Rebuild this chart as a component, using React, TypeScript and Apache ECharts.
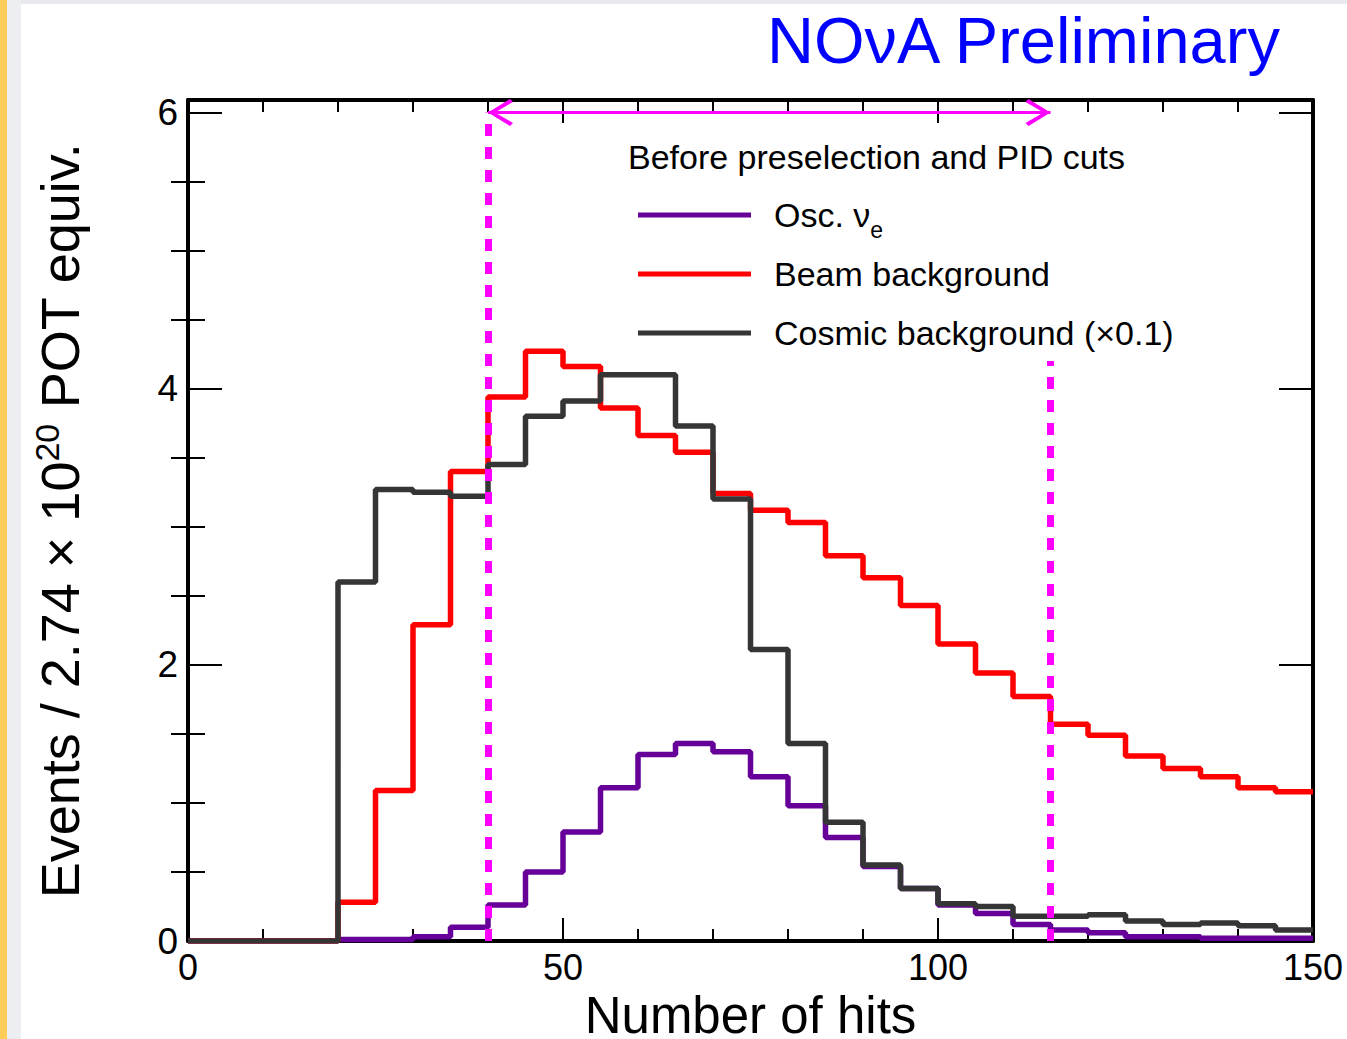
import React, { useEffect, useRef } from 'react';
import * as echarts from 'echarts';

// ---------------- data ----------------
const binStarts = [0, 5, 10, 15, 20, 25, 30, 35, 40, 45, 50, 55, 60, 65, 70, 75, 80, 85, 90, 95, 100, 105, 110, 115, 120, 125, 130, 135, 140, 145];
const histEnd = 150;

const oscNue = [0, 0, 0, 0, 0.01, 0.01, 0.03, 0.10, 0.26, 0.50, 0.79, 1.11, 1.35, 1.43, 1.37, 1.19, 0.98, 0.75, 0.54, 0.38, 0.26, 0.20, 0.12, 0.08, 0.06, 0.03, 0.03, 0.02, 0.02, 0.02];
const beamBkg = [0, 0, 0, 0, 0.28, 1.09, 2.29, 3.40, 3.94, 4.27, 4.16, 3.86, 3.66, 3.54, 3.24, 3.12, 3.03, 2.79, 2.63, 2.43, 2.15, 1.94, 1.77, 1.57, 1.49, 1.34, 1.25, 1.19, 1.11, 1.08];
const cosmicBkg = [0, 0, 0, 0, 2.60, 3.27, 3.25, 3.22, 3.45, 3.80, 3.91, 4.10, 4.10, 3.73, 3.20, 2.11, 1.43, 0.86, 0.55, 0.38, 0.27, 0.25, 0.18, 0.18, 0.19, 0.145, 0.12, 0.13, 0.11, 0.08];

const seriesNames = ['Osc. νe', 'Beam background', 'Cosmic background (×0.1)'];
const legendHeader = 'Before preselection and PID cuts';
const titleText = 'NOνA Preliminary';
const xTitle = 'Number of hits';

const xTickLabels = [0, 50, 100, 150];
const yMajorTicks = [0, 2, 4, 6];
const yMinorTicks = [0.5, 1, 1.5, 2.5, 3, 3.5, 4.5, 5, 5.5];

const cutLow = 40;
const cutHigh = 115;
const cutLowTop = 6;
const cutHighTop = 4.2;
const arrowLevel = 6;

// ---------------- styles ----------------
const FONT = '"Liberation Sans", Arial, Helvetica, sans-serif';
const C_OSC = '#660099';
const C_BEAM = '#ff0000';
const C_COSMIC = '#353535';
const C_CUT = '#ff00ff';
const CHEVRON_LEFT = 'path://M0 13.5 L22 0 L25 3 L7 13.5 L25 24 L22 27 Z';
const CHEVRON_RIGHT = 'path://M25 13.5 L3 0 L0 3 L18 13.5 L0 24 L3 27 Z';

function toSteps(vals: number[]): number[][] {
  const pts = binStarts.map((x, i) => [x, vals[i]]);
  pts.push([histEnd, vals[vals.length - 1]]);
  return pts;
}

function buildOption(): any {
  const frameLine = { show: true, onZero: false, lineStyle: { color: '#000', width: 4 } };
  const xCommon = {
    type: 'value',
    min: 0,
    max: 150,
    interval: 50,
    axisLine: frameLine,
    axisTick: { show: true, inside: true, length: 23, lineStyle: { color: '#000', width: 2 } },
    minorTick: { show: true, splitNumber: 5, length: 12, lineStyle: { color: '#000', width: 2 } },
    splitLine: { show: false },
    minorSplitLine: { show: false },
  };
  const yRange = { type: 'value', min: 0, max: 6.09, splitLine: { show: false } };
  const majorTick = { show: true, inside: true, length: 34, customValues: yMajorTicks, lineStyle: { color: '#000', width: 2 } };
  const minorTickY = { show: true, inside: true, length: 17, customValues: yMinorTicks, lineStyle: { color: '#000', width: 2 } };

  const lineSeries = (name: string, vals: number[], color: string, extra: any = {}) => ({
    type: 'line',
    name,
    step: 'end',
    data: toSteps(vals),
    symbol: 'none',
    showSymbol: false,
    color,
    itemStyle: { color },
    lineStyle: { color, width: 5.5 },
    xAxisIndex: 0,
    yAxisIndex: 0,
    silent: true,
    ...extra,
  });

  const chevron = (x: number, path: string, offsetX: number) => ({
    type: 'scatter',
    name: 'cut-arrow',
    data: [[x, arrowLevel]],
    symbol: path,
    symbolSize: [25, 27],
    symbolOffset: [offsetX, 0],
    itemStyle: { color: C_CUT, opacity: 1 },
    silent: true,
    z: 6,
    xAxisIndex: 0,
    yAxisIndex: 0,
  });

  return {
    animation: false,
    backgroundColor: 'transparent',
    textStyle: { fontFamily: FONT },
    title: {
      text: titleText,
      left: 767,
      top: 8,
      padding: 0,
      textStyle: { color: '#0000ff', fontSize: 65, fontWeight: 'normal', fontFamily: FONT },
    },
    grid: { left: 188, right: 34, top: 100, bottom: 98, containLabel: false, outerBoundsMode: 'none' },
    xAxis: [
      {
        ...xCommon,
        position: 'bottom',
        axisLabel: {
          show: true,
          customValues: xTickLabels,
          color: '#000',
          fontSize: 36,
          fontFamily: FONT,
          margin: 8,
        },
        name: xTitle,
        nameLocation: 'middle',
        nameGap: 53,
        nameTextStyle: { color: '#000', fontSize: 51, fontFamily: FONT, lineHeight: 30 },
      },
      { ...xCommon, position: 'top', axisLabel: { show: false } },
    ],
    yAxis: [
      {
        ...yRange,
        position: 'left',
        axisLine: frameLine,
        axisTick: majorTick,
        axisLabel: { show: true, customValues: yMajorTicks, color: '#000', fontSize: 37, fontFamily: FONT, margin: 10 },
        name: 'Events / 2.74 × 10{sup|20} POT equiv.',
        nameLocation: 'middle',
        nameRotate: 90,
        nameGap: 98,
        nameTextStyle: {
          color: '#000',
          fontSize: 54,
          fontFamily: FONT,
          lineHeight: 60,
          rich: { sup: { fontSize: 34, fontFamily: FONT, color: '#000', lineHeight: 20, verticalAlign: 'top' } },
        },
      },
      { ...yRange, position: 'left', axisLine: { show: false }, axisTick: minorTickY, axisLabel: { show: false } },
      { ...yRange, position: 'right', axisLine: frameLine, axisTick: majorTick, axisLabel: { show: false } },
      { ...yRange, position: 'right', axisLine: { show: false }, axisTick: minorTickY, axisLabel: { show: false } },
    ],
    legend: {
      orient: 'vertical',
      left: 638,
      top: 189,
      padding: 0,
      itemWidth: 113,
      itemHeight: 5,
      itemGap: 7,
      icon: 'rect',
      selectedMode: false,
      data: seriesNames,
      formatter: (name: string) => (name === seriesNames[0] ? '{gap| }Osc. ν{sub|e}' : '{gap| }' + name),
      textStyle: {
        color: '#000',
        fontSize: 34,
        fontFamily: FONT,
        lineHeight: 52,
        rich: {
          gap: { width: 18, fontSize: 34, fontFamily: FONT, lineHeight: 52 },
          sub: { fontSize: 23, fontFamily: FONT, color: '#000', lineHeight: 22, verticalAlign: 'bottom' },
        },
      },
    },
    graphic: [
      {
        type: 'text',
        left: 628,
        top: 140,
        silent: true,
        style: { text: legendHeader, fontSize: 34, fontFamily: FONT, fill: '#000' },
      },
    ],
    series: [
      lineSeries(seriesNames[0], oscNue, C_OSC, {
        markLine: {
          silent: true,
          animation: false,
          symbol: ['none', 'none'],
          label: { show: false },
          lineStyle: { color: C_CUT, width: 7, type: [12, 11], opacity: 1 },
          emphasis: { disabled: true },
          data: [
            [{ coord: [cutLow, 0] }, { coord: [cutLow, cutLowTop] }],
            [{ coord: [cutHigh, 0] }, { coord: [cutHigh, cutHighTop] }],
          ],
        },
      }),
      lineSeries(seriesNames[1], beamBkg, C_BEAM, {
        markLine: {
          silent: true,
          animation: false,
          symbol: ['none', 'none'],
          label: { show: false },
          lineStyle: { color: C_CUT, width: 3, type: 'solid', opacity: 1 },
          emphasis: { disabled: true },
          data: [[{ coord: [cutLow, arrowLevel] }, { coord: [cutHigh, arrowLevel] }]],
        },
      }),
      lineSeries(seriesNames[2], cosmicBkg, C_COSMIC),
      chevron(cutLow, CHEVRON_LEFT, 12.5),
      chevron(cutHigh, CHEVRON_RIGHT, -12.5),
    ],
  };
}

export default function App() {
  const ref = useRef<HTMLDivElement>(null);
  useEffect(() => {
    if (!ref.current) return;
    const chart = echarts.init(ref.current, null, { renderer: 'svg' });
    chart.setOption(buildOption());
    return () => chart.dispose();
  }, []);
  return (
    <div style={{ position: 'absolute', left: 0, top: 0, width: 1347, height: 1039, background: '#ffffff', overflow: 'hidden' }}>
      <div style={{ position: 'absolute', left: 0, top: 0, width: 1347, height: 4, background: '#e8eaee' }} />
      <div style={{ position: 'absolute', left: 0, top: 0, width: 21, height: 1039, background: '#eceef2' }} />
      <div style={{ position: 'absolute', left: 0, top: 0, width: 7, height: 1039, background: '#ffcd57' }} />
      <div ref={ref} style={{ position: 'absolute', left: 0, top: 0, width: 1347, height: 1039 }} />
    </div>
  );
}
